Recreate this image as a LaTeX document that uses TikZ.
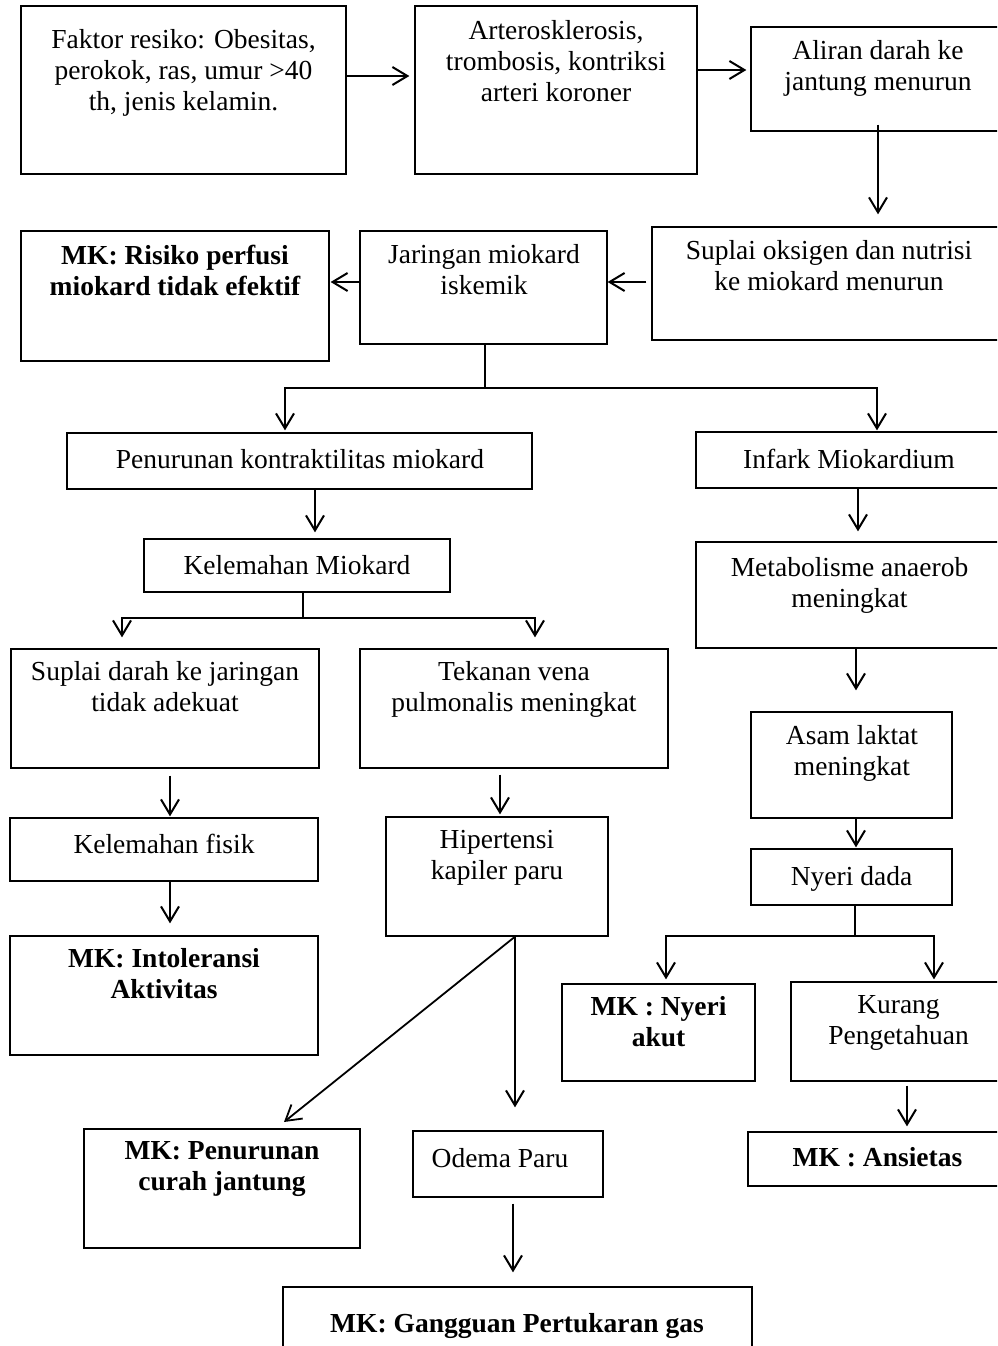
\documentclass[tikz,border=0pt]{standalone}
\usepackage{fontspec}
\setmainfont{Liberation Serif}
\usetikzlibrary{arrows.meta,fit,calc}
\tikzset{
  box/.style={draw,line width=1.3pt,inner sep=0pt},
  txt/.style={anchor=north,inner sep=0pt,align=center,font=\fontsize{27.5}{31}\selectfont,execute at begin node=\strut},
  btxt/.style={txt,font=\fontsize{27.5}{31}\selectfont\bfseries},
  arr/.style={draw,line width=2pt,-{Straight Barb[length=15pt,width=18pt]}},
  ln/.style={draw,line width=2.4pt}
}
\newcommand\bx[5]{\node[box,fit={(#2,#3) (#4,#5)}] (#1) {};}
\begin{document}
\begin{tikzpicture}[x=1pt,y=-1pt]
\useasboundingbox (0,0) rectangle (997,1346);
\clip (0,0) rectangle (997,1346);
% boxes
\bx{fak}{21}{6}{346}{174}
\bx{art}{415}{6}{697}{174}
\bx{ali}{751}{27}{1005}{131}
\bx{sup}{652}{227}{1005}{340}
\bx{jar}{360}{231}{607}{344}
\bx{ris}{21}{231}{329}{361}
\bx{pen}{67}{433}{532}{489}
\bx{inf}{696}{432}{1003}{488}
\bx{kmi}{144}{539}{450}{592}
\bx{met}{696}{542}{1003}{648}
\bx{sda}{11}{649}{319}{768}
\bx{tek}{360}{649}{668}{768}
\bx{asa}{751}{712}{952}{818}
\bx{nye}{751}{849}{952}{905}
\bx{kfi}{10}{818}{318}{881}
\bx{hip}{386}{817}{608}{936}
\bx{int}{10}{936}{318}{1055}
\bx{mkn}{562}{984}{755}{1081}
\bx{kur}{791}{982}{1006}{1081}
\bx{ans}{748}{1132}{1007}{1186}
\bx{cur}{84}{1129}{360}{1248}
\bx{ode}{413}{1131}{603}{1197}
\bx{gan}{283}{1287}{752}{1370}
% texts
\node[txt] (fak-t) at (183.5,{51-21.7}) {Faktor resiko: Obesitas,\\perokok, ras, umur >40\\th, jenis kelamin.};
\node[txt] (art-t) at (556,{42-21.7}) {Arterosklerosis,\\trombosis, kontriksi\\arteri koroner};
\node[txt] (ali-t) at (878,{62-21.7}) {Aliran darah ke\\jantung menurun};
\node[txt] (sup-t) at (829,{262-21.7}) {Suplai oksigen dan nutrisi\\ke miokard menurun};
\node[txt] (jar-t) at (484,{266-21.7}) {Jaringan miokard\\iskemik};
\node[btxt] (ris-t) at (175,{267-21.7}) {MK: Risiko perfusi\\miokard tidak efektif};
\node[txt] (pen-t) at (300,{468-21.7}) {Penurunan kontraktilitas miokard};
\node[txt] (inf-t) at (849,{468-21.7}) {Infark Miokardium};
\node[txt] (kmi-t) at (297,{574-21.7}) {Kelemahan Miokard};
\node[txt] (met-t) at (849.5,{579-21.7}) {Metabolisme anaerob\\meningkat};
\node[txt] (sda-t) at (165,{683-21.7}) {Suplai darah ke jaringan\\tidak adekuat};
\node[txt] (tek-t) at (514,{683-21.7}) {Tekanan vena\\pulmonalis meningkat};
\node[txt] (asa-t) at (852,{747-21.7}) {Asam laktat\\meningkat};
\node[txt] (nye-t) at (851.5,{885-21.7}) {Nyeri dada};
\node[txt] (kfi-t) at (164,{853-21.7}) {Kelemahan fisik};
\node[txt] (hip-t) at (497,{852-21.7}) {Hipertensi\\kapiler paru};
\node[btxt] (int-t) at (164,{970-21.7}) {MK: Intoleransi\\Aktivitas};
\node[btxt] (mkn-t) at (658.5,{1018-21.7}) {MK : Nyeri\\akut};
\node[txt] (kur-t) at (898.5,{1017-21.7}) {Kurang\\Pengetahuan};
\node[btxt] (ans-t) at (877.5,{1166-21.7}) {MK : Ansietas};
\node[btxt] (cur-t) at (222,{1163-21.7}) {MK: Penurunan\\curah jantung};
\node[txt] (ode-t) at (500,{1167-21.7}) {Odema Paru};
\node[btxt] (gan-t) at (517,{1332-21.7}) {MK: Gangguan Pertukaran gas};
% coordinates for branch points
\coordinate (j1) at (485,388);
\coordinate (k1) at (303,618);
\coordinate (n1) at (855,936);
\coordinate (dtip) at (284,1122);
% connectors
\draw[arr,shorten >=5pt] (fak.east |- 0,76) -- (art.west |- 0,76);
\draw[arr,shorten >=4pt] (art.east |- 0,70) -- (ali.west |- 0,70);
\draw[arr,shorten >=12pt] ([yshift=7pt]ali.south) -- (sup.north -| ali.south);
\draw[arr,shorten <=5pt] (sup.west |- 0,282) -- (jar.east |- 0,282);
\draw[arr,shorten >=1pt] (jar.west |- 0,282) -- (ris.east |- 0,282);
\draw[ln] (jar.south -| j1) -- (j1);
\draw[arr,shorten >=2pt] (j1) -| (pen.north -| 285,0);
\draw[arr,shorten >=1pt] (j1) -| (inf.north -| 877,0);
\draw[arr,shorten >=6pt] (pen.south -| 315,0) -- (kmi.north -| 315,0);
\draw[arr,shorten >=10pt] (inf.south -| 858,0) -- (met.north -| 858,0);
\draw[ln] (kmi.south -| k1) -- (k1);
\draw[arr,shorten >=11pt] (k1) -| (sda.north -| 122,0);
\draw[arr,shorten >=11pt] (k1) -| (tek.north -| 535,0);
\draw[arr,shorten >=21pt] (met.south -| 856,0) -- (asa.north -| 856,0);
\draw[arr,shorten <=7pt,shorten >=1pt] (sda.south -| 170,0) -- (kfi.north -| 170,0);
\draw[arr,shorten <=6pt,shorten >=2pt] (tek.south -| 500,0) -- (hip.north -| 500,0);
\draw[arr,shorten >=1pt] (asa.south -| 856,0) -- (nye.north -| 856,0);
\draw[arr,shorten >=12pt] (kfi.south -| 170,0) -- (int.north -| 170,0);
\draw[line width=1.8pt,-{Straight Barb[length=15pt,width=18pt]}] (hip.south -| 515,0) -- (dtip);
\draw[arr,shorten >=23pt] (hip.south -| 515,0) -- (ode.north -| 515,0);
\draw[ln] (nye.south -| n1) -- (n1);
\draw[arr,shorten >=4pt] (n1) -| (mkn.north -| 666,0);
\draw[arr,shorten >=2pt] (n1) -| (kur.north -| 934,0);
\draw[arr,shorten <=4pt,shorten >=5pt] (kur.south -| 907,0) -- (ans.north -| 907,0);
\draw[arr,shorten <=6pt,shorten >=14pt] (ode.south -| 513,0) -- (gan.north -| 513,0);
\end{tikzpicture}
\end{document}
